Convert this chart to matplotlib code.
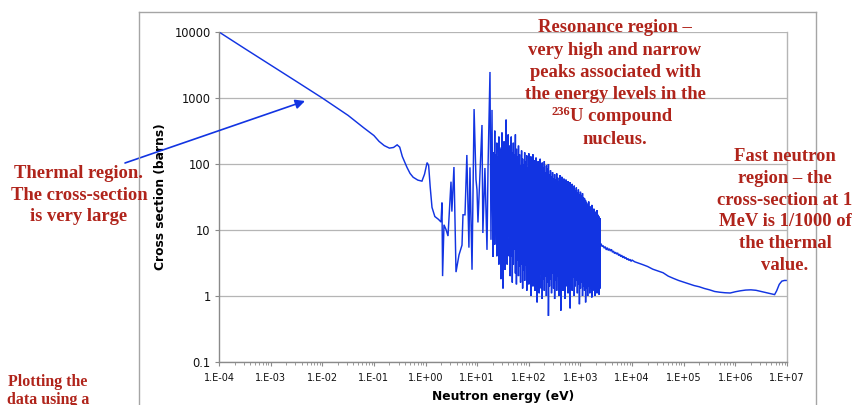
import numpy as np
import matplotlib
matplotlib.use("Agg")
import matplotlib.pyplot as plt
from matplotlib.lines import Line2D
from matplotlib.ticker import FixedLocator, FixedFormatter, LogLocator, NullFormatter

# ---------------- data (log10 energy in eV, cross section in barns) ----------------
thermal_log_e = [-4.0, -3.5, -3.0, -2.5, -2.0, -1.5, -1.2, -1.0, -0.9, -0.8, -0.7,
                 -0.62, -0.55, -0.5, -0.45, -0.36, -0.3, -0.24, -0.15, -0.07, -0.02,
                 0.03, 0.06, 0.09, 0.125, 0.18, 0.25, 0.30]
thermal_xs = [10000, 5600, 3160, 1780, 1000, 545, 355, 270, 220, 190, 174,
              178, 195, 180, 130, 89, 72, 63, 57, 55, 70,
              105, 95, 45, 22, 16, 14.5, 13.2]

res_sparse_log_e = [0.318, 0.33, 0.357, 0.40, 0.435, 0.493, 0.51, 0.55, 0.59, 0.648,
                    0.706, 0.725, 0.764, 0.80, 0.84, 0.86, 0.90, 0.94, 0.977, 0.996,
                    1.015, 1.054, 1.093, 1.11, 1.15, 1.19, 1.21, 1.248, 1.267, 1.287,
                    1.306]
res_sparse_xs = [26, 2.0, 12, 10, 8.1, 54, 19, 90, 2.3, 4.2,
                 5.9, 17, 17, 137, 5.4, 89, 2.5, 680, 58, 41,
                 13, 72, 390, 9, 87, 5.0, 89, 2480, 7.1, 660,
                 3.9]

# dense resonance spikes, first set: (log10 E, peak, trough)
dense_spikes_a = [
    (1.32, 150, 9), (1.34, 320, 6), (1.36, 90, 14), (1.38, 210, 4), (1.40, 130, 11),
    (1.42, 260, 3), (1.44, 170, 8), (1.46, 110, 1.8), (1.48, 300, 5), (1.50, 90, 1.3),
    (1.52, 220, 7), (1.54, 140, 2.5), (1.56, 470, 6), (1.58, 160, 3), (1.60, 280, 9),
    (1.62, 190, 4), (1.64, 120, 2), (1.66, 260, 6), (1.68, 150, 1.6), (1.70, 210, 3),
    (1.72, 110, 5), (1.74, 280, 2.2), (1.76, 170, 1.5), (1.78, 130, 3.5), (1.80, 190, 2),
    (1.82, 140, 2.8), (1.84, 95, 1.6), (1.86, 160, 3), (1.88, 120, 1.3), (1.90, 100, 2.4),
    (1.92, 150, 1.7), (1.94, 110, 2.9), (1.96, 135, 1.2), (1.98, 90, 2.2), (2.00, 145, 1.5),
    (2.02, 105, 2.6), (2.04, 130, 1.0), (2.06, 95, 1.9), (2.08, 140, 1.4), (2.10, 115, 2.3),
    (2.12, 100, 1.2), (2.14, 125, 2.0), (2.16, 85, 0.8), (2.18, 110, 1.6), (2.20, 95, 1.1),
    (2.22, 120, 2.1), (2.24, 80, 1.3), (2.26, 105, 0.9), (2.28, 90, 1.8), (2.30, 110, 1.2),
    (2.32, 75, 2.0), (2.34, 95, 1.0), (2.36, 85, 1.6), (2.38, 100, 0.5), (2.40, 70, 1.4),
    (2.42, 80, 1.8), (2.44, 65, 1.1), (2.46, 75, 2.2), (2.48, 60, 1.3), (2.50, 70, 0.9),
    (2.52, 58, 1.7), (2.54, 72, 1.2), (2.56, 62, 2.0), (2.58, 55, 1.0), (2.60, 68, 1.5),
    (2.62, 57, 0.6), (2.64, 64, 1.8), (2.66, 52, 1.2), (2.68, 60, 1.6), (2.70, 50, 0.9),
    (2.72, 58, 1.4), (2.74, 48, 1.9), (2.76, 55, 1.1), (2.78, 46, 1.5), (2.80, 53, 0.65),
    (2.82, 45, 1.6), (2.84, 50, 1.2), (2.86, 42, 1.9), (2.88, 47, 1.0), (2.90, 40, 1.4),
    (2.92, 44, 1.7), (2.94, 37, 1.1), (2.96, 41, 1.5), (2.98, 35, 0.75), (3.00, 38, 1.3),
    (3.02, 33, 1.6), (3.04, 36, 1.0), (3.06, 31, 1.4), (3.08, 30, 1.2), (3.10, 28, 0.8),
    (3.12, 26, 1.3), (3.14, 24, 1.0), (3.16, 27, 1.4), (3.18, 23, 1.1), (3.20, 22, 1.3),
    (3.22, 24, 0.95), (3.24, 20, 1.2), (3.26, 21, 1.4), (3.28, 19, 1.0), (3.30, 18, 1.3),
    (3.32, 20, 1.1), (3.34, 17, 1.2), (3.36, 16, 1.05), (3.38, 15, 1.3),
]

# dense resonance spikes, second (interleaved) set: (log10 E, peak, trough)
dense_spikes_b = [
    (1.33, 60, 20), (1.35, 140, 12), (1.37, 45, 25), (1.39, 95, 9), (1.41, 70, 18),
    (1.43, 120, 7), (1.45, 55, 15), (1.47, 180, 10), (1.49, 65, 4), (1.51, 110, 14),
    (1.53, 75, 6), (1.55, 200, 11), (1.57, 85, 5), (1.59, 130, 16), (1.61, 90, 8),
    (1.63, 150, 5), (1.65, 70, 12), (1.67, 110, 4), (1.69, 80, 9), (1.71, 140, 6),
    (1.73, 60, 10), (1.75, 120, 4.5), (1.77, 75, 7), (1.79, 100, 5), (1.81, 70, 6),
    (1.83, 85, 4), (1.85, 55, 7), (1.87, 90, 3.5), (1.89, 60, 6), (1.91, 80, 4),
    (1.93, 50, 6.5), (1.95, 75, 3.2), (1.97, 58, 5.5), (1.99, 70, 3.8), (2.01, 52, 6),
    (2.03, 78, 3), (2.05, 48, 5), (2.07, 66, 3.6), (2.09, 55, 5.8), (2.11, 60, 3.2),
    (2.13, 45, 5), (2.15, 70, 2.6), (2.17, 50, 4.4), (2.19, 58, 3), (2.21, 42, 5.2),
    (2.23, 62, 2.8), (2.25, 47, 4), (2.27, 55, 2.5), (2.29, 40, 4.6), (2.31, 52, 3),
    (2.33, 44, 4.2), (2.35, 50, 2.4), (2.37, 38, 4.8), (2.39, 46, 2.9), (2.41, 40, 3.8),
    (2.43, 36, 2.6), (2.45, 42, 4.4), (2.47, 33, 2.7), (2.49, 38, 3.6), (2.51, 31, 2.3),
    (2.53, 37, 4.0), (2.55, 30, 2.6), (2.57, 34, 3.4), (2.59, 29, 2.2), (2.61, 33, 3.8),
    (2.63, 28, 2.5), (2.65, 31, 3.2), (2.67, 27, 2.1), (2.69, 30, 3.5), (2.71, 26, 2.4),
    (2.73, 28, 3.0), (2.75, 24, 2.0), (2.77, 27, 3.3), (2.79, 23, 2.3), (2.81, 25, 2.9),
    (2.83, 22, 2.0), (2.85, 24, 3.1), (2.87, 21, 2.2), (2.89, 23, 2.7), (2.91, 20, 1.9),
    (2.93, 22, 2.8), (2.95, 19, 2.1), (2.97, 20, 2.6), (2.99, 18, 1.8), (3.01, 19, 2.5),
    (3.03, 17, 2.0), (3.05, 18, 2.4), (3.07, 16, 1.7), (3.09, 17, 2.3), (3.11, 15, 1.9),
    (3.13, 14, 2.2), (3.15, 15, 1.6), (3.17, 13, 2.1), (3.19, 14, 1.8), (3.21, 12.5, 2.0),
    (3.23, 13, 1.6), (3.25, 12, 1.9), (3.27, 11.5, 1.5), (3.29, 12, 1.8), (3.31, 11, 1.6),
    (3.33, 10.5, 1.7), (3.35, 10, 1.4), (3.37, 9.5, 1.6),
]

fast_log_e = [3.38, 3.40, 3.42, 3.44, 3.46, 3.48, 3.50, 3.52, 3.54, 3.56, 3.58, 3.60,
              3.62, 3.64, 3.66, 3.68, 3.70, 3.72, 3.74, 3.76, 3.78, 3.80, 3.82, 3.84,
              3.86, 3.88, 3.90, 3.92, 3.94, 3.96, 3.98, 4.00, 4.05, 4.10, 4.15, 4.20,
              4.25, 4.30, 4.40, 4.50, 4.60, 4.70, 4.80, 4.90, 5.00, 5.10, 5.20, 5.30,
              5.40, 5.50, 5.60, 5.70, 5.80, 5.90, 6.00, 6.10, 6.20, 6.30, 6.40, 6.50,
              6.60, 6.70, 6.76, 6.80, 6.85, 6.90, 6.95, 7.00]
fast_xs = [5.9, 6.2, 5.6, 5.8, 5.3, 5.6, 5.0, 5.4, 4.9, 5.2, 4.8, 5.1,
           4.6, 4.8, 4.4, 4.6, 4.3, 4.5, 4.1, 4.3, 3.95, 4.15, 3.8, 4.0,
           3.7, 3.85, 3.55, 3.7, 3.45, 3.6, 3.35, 3.5, 3.3, 3.2, 3.1, 3.0,
           2.9, 2.8, 2.55, 2.4, 2.25, 2.0, 1.85, 1.72, 1.62, 1.52, 1.44, 1.38,
           1.30, 1.24, 1.17, 1.14, 1.12, 1.11, 1.16, 1.20, 1.23, 1.24, 1.22, 1.17,
           1.12, 1.08, 1.05, 1.20, 1.50, 1.68, 1.72, 1.72]

x_tick_values = [1e-4, 1e-3, 1e-2, 1e-1, 1e0, 1e1, 1e2, 1e3, 1e4, 1e5, 1e6, 1e7]
x_tick_labels = ["1.E-04", "1.E-03", "1.E-02", "1.E-01", "1.E+00", "1.E+01",
                 "1.E+02", "1.E+03", "1.E+04", "1.E+05", "1.E+06", "1.E+07"]
y_tick_values = [0.1, 1, 10, 100, 1000, 10000]
y_tick_labels = ["0.1", "1", "10", "100", "1000", "10000"]

x_label = "Neutron energy (eV)"
y_label = "Cross section (barns)"

resonance_lines = ["Resonance region \u2013", "very high and narrow", "peaks associated with",
                   "the energy levels in the", None, "nucleus."]
thermal_lines = ["Thermal region.", "The cross-section", "is very large"]
fast_lines = ["Fast neutron", "region \u2013 the", "cross-section at 1",
              "MeV is 1/1000 of", "the thermal", "value."]
plotting_lines = ["Plotting the", "data using a"]

# ---------------- build series ----------------
log_e = list(thermal_log_e) + list(res_sparse_log_e)
xs = list(thermal_xs) + list(res_sparse_xs)
for le, hi, lo in sorted(dense_spikes_a + dense_spikes_b):
    log_e += [le, le]
    xs += [hi, lo]
log_e += list(fast_log_e)
xs += list(fast_xs)
energy = np.power(10.0, np.array(log_e))
xs = np.array(xs)

# ---------------- figure ----------------
W, H = 856, 405
fig = plt.figure(figsize=(W / 100, H / 100), dpi=100)
fig.patch.set_facecolor("white")

def fx(px):
    return px / W

def fy(py):
    return 1 - py / H

ax = fig.add_axes([fx(219), fy(362), fx(787) - fx(219), fy(32) - fy(362)])
blue = "#1234E2"
ax.plot(energy, xs, color=blue, lw=1.05, solid_joinstyle="miter")
ax.set_xscale("log")
ax.set_yscale("log")
ax.set_xlim(1e-4, 1e7)
ax.set_ylim(0.1, 10000)

ax.xaxis.set_major_locator(FixedLocator(x_tick_values))
ax.xaxis.set_major_formatter(FixedFormatter(x_tick_labels))
ax.xaxis.set_minor_locator(LogLocator(base=10, subs=np.arange(2, 10), numticks=100))
ax.xaxis.set_minor_formatter(NullFormatter())
ax.yaxis.set_major_locator(FixedLocator(y_tick_values))
ax.yaxis.set_major_formatter(FixedFormatter(y_tick_labels))
ax.yaxis.set_minor_locator(FixedLocator([]))

ax.yaxis.grid(True, which="major", color="#b5b5b5", lw=0.9)
ax.set_axisbelow(True)
for s in ["left", "bottom"]:
    ax.spines[s].set_color("#8a8a8a")
    ax.spines[s].set_linewidth(1.0)
ax.spines["right"].set_color("#b5b5b5")
ax.spines["right"].set_linewidth(1.0)
ax.spines["top"].set_visible(False)

ax.tick_params(axis="y", which="major", length=3, width=0.8, color="#8a8a8a",
               labelsize=8.3, pad=3, labelcolor="#111111")
ax.tick_params(axis="x", which="major", length=3, width=0.8, color="#8a8a8a",
               labelsize=7, pad=5, labelcolor="#111111")
ax.tick_params(axis="x", which="minor", length=2, width=0.6, color="#8a8a8a")

ax.set_xlabel(x_label, fontsize=8.8, fontweight="bold", labelpad=5)
ax.set_ylabel(y_label, fontsize=8.8, fontweight="bold", labelpad=5)

# chart-area border lines
border = "#a5a5a5"
fig.add_artist(Line2D([fx(139), fx(139)], [0, fy(12)], transform=fig.transFigure, color=border, lw=1.0))
fig.add_artist(Line2D([fx(139), fx(816)], [fy(12), fy(12)], transform=fig.transFigure, color=border, lw=1.0))
fig.add_artist(Line2D([fx(816), fx(816)], [0, fy(12)], transform=fig.transFigure, color=border, lw=1.0))

# annotations
red = "#B0241B"
serif = ["Liberation Serif", "DejaVu Serif"]

def draw_lines(lines, cx, first_base, spacing, size):
    for i, t in enumerate(lines):
        if t is None:
            continue
        fig.text(fx(cx), fy(first_base + i * spacing), t, ha="center", va="baseline",
                 color=red, fontsize=size, fontweight="bold", family=serif)

res_base, res_step = 32.5, 22.2
draw_lines(resonance_lines, 615, res_base, res_step, 13.4)
# line with the 236 superscript
base5 = res_base + 4 * res_step
t_main = fig.text(fx(621), fy(base5), "U compound", ha="center", va="baseline",
                  color=red, fontsize=13.4, fontweight="bold", family=serif)
fig.canvas.draw()
bb = t_main.get_window_extent()
fig.text(bb.x0 / W, fy(base5 - 6), "236", ha="right", va="baseline",
         color=red, fontsize=9, fontweight="bold", family=serif)

draw_lines(thermal_lines, 79, 178, 21.6, 13.4)
draw_lines(fast_lines, 785, 161, 21.8, 13.4)
draw_lines(plotting_lines, 48, 386, 17.5, 11.4)

ax.annotate("", xy=(305, H - 101), xycoords="figure pixels",
            xytext=(125, H - 163), textcoords="figure pixels",
            arrowprops=dict(arrowstyle="-|>", color=blue, lw=1.2,
                            mutation_scale=14, shrinkA=0, shrinkB=0),
            annotation_clip=False)

fig.savefig("out.png", dpi=100, facecolor="white")
